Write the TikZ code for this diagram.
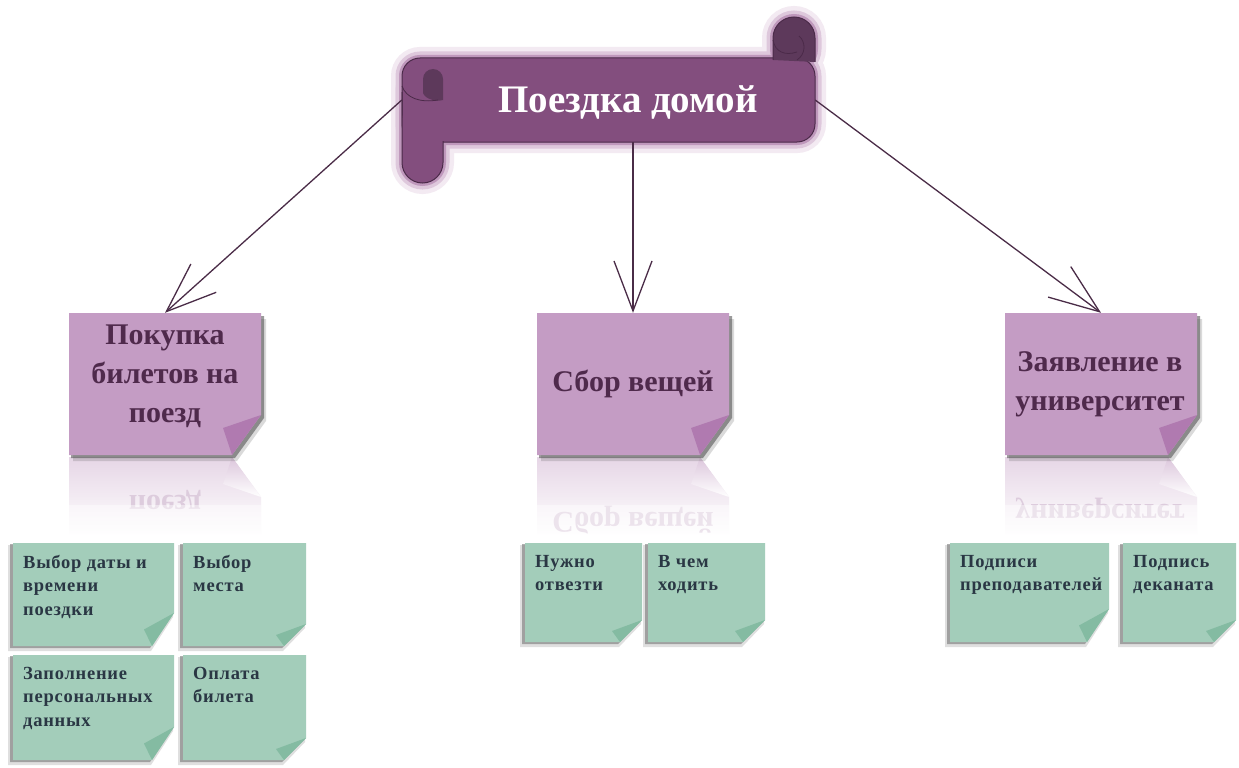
\documentclass[tikz,border=0pt]{standalone}
\usepackage{fontspec}
\setmainfont{Liberation Serif}
\usetikzlibrary{arrows.meta,calc}
\definecolor{scrollfill}{HTML}{834E7E}
\definecolor{scrolldark}{HTML}{5D395B}
\definecolor{scrollline}{HTML}{4B2A49}
\definecolor{glowA}{HTML}{F3EAF2}
\definecolor{glowB}{HTML}{DEC8DC}
\definecolor{glowC}{HTML}{BF98BC}
\definecolor{pfill}{HTML}{C49CC4}
\definecolor{pfold}{HTML}{B07AB0}
\definecolor{ptext}{HTML}{4F2A4C}
\definecolor{pref}{HTML}{E6D6E6}
\definecolor{preffold}{HTML}{DCC6DC}
\definecolor{preftext}{HTML}{DDCCDD}
\definecolor{pshadow}{HTML}{4A4A4A}
\definecolor{gfill}{HTML}{A3CDBA}
\definecolor{gfold}{HTML}{84BBA2}
\definecolor{gtextc}{HTML}{2A3744}
\definecolor{gshadow}{HTML}{6E6E6E}
\definecolor{arrowc}{HTML}{4A2C47}
\newfontfamily\gfont[LetterSpace=4]{Liberation Serif}
\tikzset{
  ptextstyle/.style={align=center,text=ptext,font=\fontsize{30}{39}\selectfont\bfseries,inner sep=0pt},
  prefstyle/.style={text=preftext,font=\fontsize{30}{39}\selectfont\bfseries,inner sep=0pt},
  gtext/.style={anchor=north west,align=left,text=gtextc,font=\gfont\fontsize{18.5}{23.5}\selectfont\bfseries,inner sep=0pt},
  arr/.style={draw=arrowc,line width=1.3pt,-{Straight Barb[length=50pt,width=38pt]}},
  notebox/.style={inner sep=0pt,minimum width=192pt,minimum height=142pt},
}
\newcommand\mypnote[5]{%
  \shade[top color=pref,bottom color=white] (#2,#5+2) -- (#4-29,#5+2) -- (#4,#5+42) -- (#4,#5+80) -- (#2,#5+80) -- cycle;
  \shade[top color=preffold,bottom color=white] (#4-29,#5+2) -- (#4,#5+42) -- (#4-38,#5+29) -- cycle;
  \fill[pshadow,opacity=.2] (#2+4,#3+6) -- (#4+5,#3+6) -- (#4+5,#5-40+6) -- (#4-29+5,#5+6) -- (#2+4,#5+6) -- cycle;
  \fill[pshadow,opacity=.55] (#2+2,#3+3) -- (#4+3,#3+3) -- (#4+3,#5-40+3) -- (#4-29+3,#5+3) -- (#2+2,#5+3) -- cycle;
  \fill[pfill] (#2,#3) -- (#4,#3) -- (#4,#5-40) -- (#4-29,#5) -- (#2,#5) -- cycle;
  \fill[pfold] (#4,#5-40) -- (#4-38,#5-27) -- (#4-29,#5) -- cycle;
  \node[notebox] (#1) at ({(#2+#4)/2},{(#3+#5)/2}) {};
}
\newcommand\mygnote[7]{%
  \fill[gshadow,opacity=.22] (#2-5,#3+2) -- (#4-1,#3+2) -- (#4-1,#5-#6+4) -- (#4-22-1,#5+5) -- (#2-5,#5+5) -- cycle;
  \fill[gshadow,opacity=.55] (#2-3,#3+1) -- (#4-2,#3+1) -- (#4-2,#5-#6+2) -- (#4-22-2,#5+2) -- (#2-3,#5+2) -- cycle;
  \fill[gfill] (#2,#3) -- (#4,#3) -- (#4,#5-#6) -- (#4-22,#5) -- (#2,#5) -- cycle;
  \fill[gfold] (#4,#5-#6) -- (#4-30,#5-0.5*#6) -- (#4-22,#5) -- cycle;
  \node[gtext] (#1) at (#2+10,#3+12) {#7};
}
\begin{document}
\begin{tikzpicture}[x=1pt,y=-1pt]
\useasboundingbox[fill=white] (0,0) rectangle (1239,768);

% purple notes
\mypnote{n1}{69}{313}{261}{455}
\mypnote{n2}{537}{313}{729}{455}
\mypnote{n3}{1005}{313}{1197}{455}
\node[ptextstyle] (t1) at (165,376) {Покупка\\билетов на\\поезд};
\node[ptextstyle] (t2) at (633,384) {Сбор вещей};
\node[ptextstyle] (t3) at (1100,384) {Заявление в\\университет};
\node[prefstyle] (r1) at (165,500) {\scalebox{1}[-1]{поезд}};
\node[prefstyle] (r2) at (633,520) {\scalebox{1}[-1]{Сбор вещей}};
\node[prefstyle] (r3) at (1100,508) {\scalebox{1}[-1]{университет}};
\fill[white,opacity=.45] (60,505) rectangle (1239,540);

% green notes
\mygnote{ga}{13}{543}{174}{646}{33}{Выбор даты и\\времени\\поездки}
\mygnote{gb}{183}{543}{306}{646}{22}{Выбор\\места}
\mygnote{gc}{13}{655}{174}{760}{33}{Заполнение\\персональных\\данных}
\mygnote{gd}{183}{655}{306}{760}{22}{Оплата\\билета}
\mygnote{ge}{525}{543}{642}{642}{22}{Нужно\\отвезти}
\mygnote{gf}{648}{543}{765}{642}{22}{В чем\\ходить}
\mygnote{gg}{950}{543}{1109}{642}{33}{Подписи\\преподавателей}
\mygnote{gh}{1123}{543}{1236}{642}{22}{Подпись\\деканата}

% scroll anchor node
\node[inner sep=0pt,minimum width=413pt,minimum height=84pt] (band) at (608.5,100) {};

% scroll glow
\foreach \w/\gc in {22/glowA,13/glowB,6/glowC}{
  \draw[line width=\w pt,\gc,rounded corners=18pt] (402,58) rectangle (815,142);
  \draw[line width=\w pt,\gc,rounded corners=20.5pt] (402,70) rectangle (443,183);
  \draw[line width=\w pt,\gc,rounded corners=21pt] (773,17) rectangle (815,70);
}

% arrows
\draw[arr] (band.west) -- (n1.north);
\draw[arr] (n2.north |- band.south) -- (n2.north);
\draw[arr] (band.east) -- (n3.north);

% band
\draw[fill=scrollfill,draw=scrollline,line width=1pt,rounded corners=18pt] (402,58) rectangle (815,142);
% left roll
\fill[scrollfill,rounded corners=20.5pt] (402,100) rectangle (443,183);
\draw[scrollline,line width=1pt,rounded corners=20.5pt] (443,141) -- (443,183) -- (402,183) -- (402,92);
\fill[scrolldark] (423,93) [rounded corners=10pt] -- (423,69) -- (443,69) [sharp corners] -- (443,100) .. controls (436,102) and (425,99) .. (423,93) -- cycle;
\draw[scrollline,line width=.8pt] (402,86) .. controls (406,98) and (420,103) .. (438,100);
% top right roll
\draw[fill=scrolldark,draw=scrollline,line width=1pt,rounded corners=21pt] (773,60) -- (773,17) -- (815,17) -- (815,62);
\draw[scrollline,line width=.8pt] (773,40) .. controls (775,52) and (785,56) .. (797,52);
\draw[scrollline,line width=.8pt] (799,36) .. controls (806,42) and (806,54) .. (797,60);

\node[text=white,font=\fontsize{39}{40}\selectfont\bfseries,inner sep=0pt] (title) at (628,102) {Поездка домой};
\end{tikzpicture}
\end{document}
